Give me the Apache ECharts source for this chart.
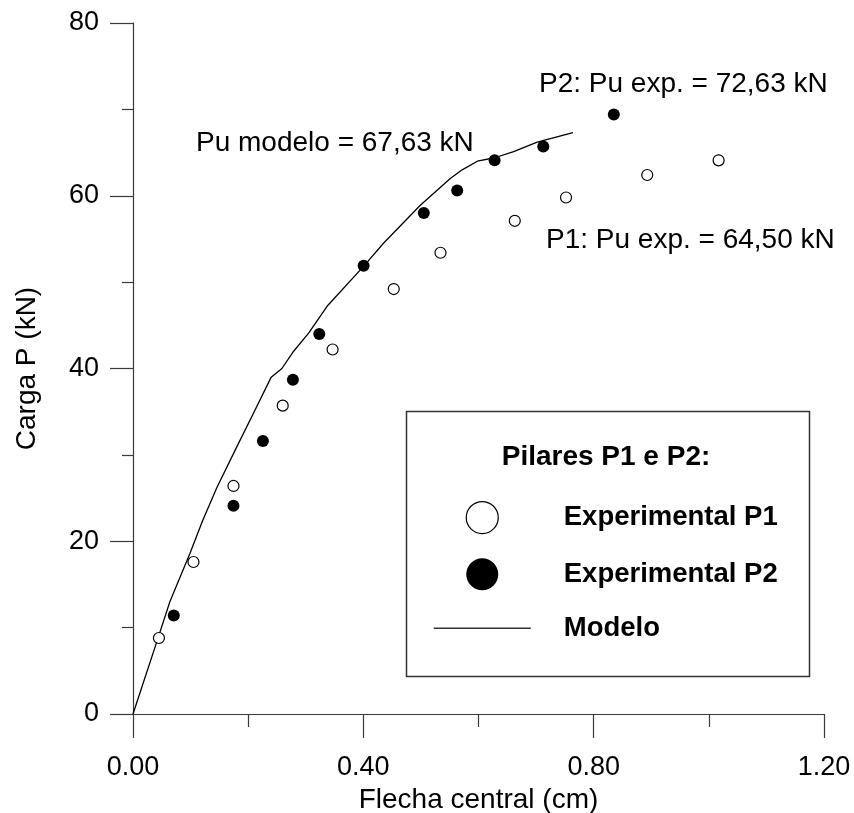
<!DOCTYPE html>
<html>
<head>
<meta charset="utf-8">
<script src="https://cdn.jsdelivr.net/npm/echarts@6/dist/echarts.min.js"></script>
<style>
html,body{margin:0;padding:0;background:#fff;}
#chart{width:854px;height:813px;}
</style>
</head>
<body>
<div id="chart"></div>
<script>
// Experimental P1 (open circles): [flecha (cm), carga (kN)]
const p1Data = [[0.045,8.8],[0.105,17.6],[0.1745,26.4],[0.26,35.7],[0.3466,42.2],[0.4528,49.2],[0.534,53.4],[0.663,57.1],[0.752,59.8],[0.893,62.4],[1.017,64.1]];
// Experimental P2 (filled circles)
const p2Data = [[0.0708,11.4],[0.1745,24.1],[0.2256,31.6],[0.2777,38.7],[0.3235,44.0],[0.4005,51.9],[0.505,58.0],[0.563,60.6],[0.628,64.1],[0.7125,65.7],[0.835,69.4]];
// Modelo (line)
const modelData = [[0,0],[0.044,8.9],[0.064,13.0],[0.099,18.6],[0.121,22.4],[0.1455,26.2],[0.18,30.9],[0.209,34.8],[0.24,39.0],[0.2586,40.0],[0.279,42.0],[0.305,44.1],[0.337,47.2],[0.40,51.8],[0.435,54.5],[0.499,58.9],[0.551,62.0],[0.5716,63.0],[0.598,64.0],[0.628,64.4],[0.661,65.1],[0.702,66.2],[0.764,67.3]];

const seriesNames = ['Experimental P1','Experimental P2','Modelo'];
const xAxisTitle = 'Flecha central (cm)';
const yAxisTitle = 'Carga P (kN)';
const legendTitle = 'Pilares P1 e P2:';
const notes = ['Pu modelo = 67,63 kN','P2: Pu exp. = 72,63 kN','P1: Pu exp. = 64,50 kN'];

const FONT = '"Liberation Sans", Arial, Helvetica, sans-serif';
const AX = '#3a3a3a';
const chart = echarts.init(document.getElementById('chart'), null, {renderer:'canvas'});

chart.setOption({
  backgroundColor:'#fff',
  animation:false,
  textStyle:{fontFamily:FONT,color:'#000'},
  grid:{left:133,right:30,top:23,bottom:99,containLabel:false,outerBoundsMode:'none'},
  xAxis:{
    type:'value',min:0,max:1.2,interval:0.4,
    name:xAxisTitle,nameLocation:'middle',nameGap:71,
    nameTextStyle:{fontSize:28,color:'#000',fontFamily:FONT},
    axisLine:{show:true,onZero:false,lineStyle:{color:AX,width:1.2}},
    axisTick:{show:true,inside:false,length:24,lineStyle:{color:AX,width:1.2}},
    minorTick:{show:true,splitNumber:2,length:13,lineStyle:{color:AX,width:1.2}},
    splitLine:{show:false},
    axisLabel:{fontSize:27,color:'#000',margin:40,fontFamily:FONT,formatter:v=>v.toFixed(2)}
  },
  yAxis:{
    type:'value',min:0,max:80,interval:20,
    name:yAxisTitle,nameLocation:'middle',nameGap:92,
    nameTextStyle:{fontSize:28,color:'#000',fontFamily:FONT},
    axisLine:{show:true,onZero:false,lineStyle:{color:AX,width:1.2}},
    axisTick:{show:true,inside:false,length:23,lineStyle:{color:AX,width:1.2}},
    minorTick:{show:true,splitNumber:2,length:11,lineStyle:{color:AX,width:1.2}},
    splitLine:{show:false},
    axisLabel:{fontSize:27,color:'#000',margin:34,fontFamily:FONT,padding:[5,0,0,0]}
  },
  legend:{
    orient:'vertical',left:433,top:501,padding:0,
    itemWidth:97,itemHeight:32,itemGap:24,
    selectedMode:false,
    textStyle:{fontSize:27.5,fontWeight:'bold',color:'#000',fontFamily:FONT,padding:[0,0,0,28]},
    data:[
      {name:seriesNames[0],icon:'circle',itemStyle:{color:'#fff',borderColor:'#000',borderWidth:1.2,opacity:1}},
      {name:seriesNames[1],icon:'circle',itemStyle:{color:'#000',borderWidth:0,opacity:1}},
      {name:seriesNames[2],itemStyle:{opacity:0},lineStyle:{color:'#333',width:1.5,opacity:1}}
    ]
  },
  graphic:[
    {type:'rect',left:404,top:409,shape:{width:403,height:265},style:{fill:'none',stroke:'#333',lineWidth:1.5},silent:true},
    {type:'text',x:606,y:457,style:{text:legendTitle,font:'bold 28px '+FONT,fill:'#000',align:'center',verticalAlign:'middle'}},
    {type:'text',x:196,y:143,style:{text:notes[0],font:'28px '+FONT,fill:'#000',align:'left',verticalAlign:'middle'}},
    {type:'text',x:539,y:84,style:{text:notes[1],font:'28px '+FONT,fill:'#000',align:'left',verticalAlign:'middle'}},
    {type:'text',x:546,y:240,style:{text:notes[2],font:'28px '+FONT,fill:'#000',align:'left',verticalAlign:'middle'}}
  ],
  series:[
    {name:seriesNames[2],type:'line',data:modelData,symbol:'none',smooth:false,
     itemStyle:{color:'#000'},lineStyle:{color:'#000',width:1.3},z:2},
    {name:seriesNames[0],type:'scatter',data:p1Data,symbol:'circle',symbolSize:11,
     itemStyle:{color:'#fff',borderColor:'#000',borderWidth:1.2,opacity:1},z:3},
    {name:seriesNames[1],type:'scatter',data:p2Data,symbol:'circle',symbolSize:12,
     itemStyle:{color:'#000',borderWidth:0,opacity:1},z:3}
  ]
});
</script>
</body>
</html>
